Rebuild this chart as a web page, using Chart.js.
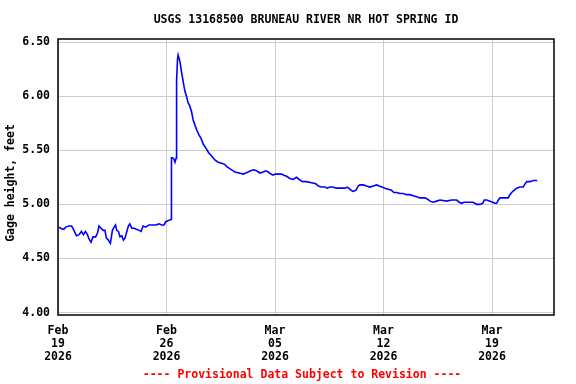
<!DOCTYPE html>
<html>
<head>
<meta charset="utf-8">
<script src="https://cdn.jsdelivr.net/npm/chart.js@4.4.1/dist/chart.umd.min.js"></script>
<style>
    html, body { margin: 0; padding: 0; background: #fff; }
    #wrap { width: 576px; height: 384px; }
</style>
</head>
<body>
<div id="wrap"><canvas id="gageChart" width="576" height="384"></canvas></div>
<script>
const stationTitle = "USGS 13168500 BRUNEAU RIVER NR HOT SPRING ID";
const yAxisTitle = "Gage height, feet";
const footerNote = "---- Provisional Data Subject to Revision ----";

// days since Feb 19 2026 00:00
const dayOffsets = [
    0.05, 0.17, 0.37, 0.50, 0.71, 0.88, 1.03, 1.19, 1.36, 1.51,
    1.64, 1.77, 1.90, 2.00, 2.13, 2.26, 2.43, 2.56, 2.65, 2.78,
    2.91, 3.03, 3.12, 3.25, 3.38, 3.51, 3.62, 3.71, 3.79, 3.90,
    4.00, 4.11, 4.22, 4.33, 4.44, 4.54, 4.63, 4.76, 4.91, 5.06,
    5.23, 5.36, 5.49, 5.66, 5.87, 6.09, 6.31, 6.52, 6.69, 6.84,
    6.95, 7.13, 7.26, 7.30, 7.32, 7.39, 7.47, 7.55, 7.63, 7.65,
    7.71, 7.75, 7.81, 7.88, 7.94, 8.01, 8.07, 8.13, 8.20, 8.29,
    8.39, 8.50, 8.61, 8.72, 8.84, 8.97, 9.10, 9.23, 9.36, 9.54,
    9.71, 9.90, 10.12, 10.33, 10.55, 10.76, 10.87, 11.08, 11.30, 11.41,
    11.69, 11.94, 12.12, 12.27, 12.42, 12.63, 12.81, 13.02, 13.23, 13.41,
    13.56, 13.73, 13.88, 14.01, 14.20, 14.42, 14.57, 14.75, 14.96, 15.17,
    15.39, 15.56, 15.78, 16.04, 16.36, 16.64, 16.79, 17.00, 17.22, 17.37,
    17.54, 17.71, 17.97, 18.30, 18.51, 18.66, 18.83, 19.01, 19.22, 19.37,
    19.48, 19.69, 19.91, 20.12, 20.34, 20.56, 20.72, 20.90, 21.09, 21.30,
    21.52, 21.67, 21.85, 22.06, 22.27, 22.49, 22.71, 22.92, 23.14, 23.35,
    23.67, 23.82, 24.00, 24.21, 24.43, 24.64, 25.07, 25.40, 25.72, 25.89,
    26.04, 26.19, 26.47, 26.75, 26.90, 27.01, 27.22, 27.40, 27.50, 27.66,
    27.87, 28.04, 28.19, 28.30, 28.41, 28.52, 28.84, 29.05, 29.16, 29.27,
    29.42, 29.59, 29.81, 30.02, 30.13, 30.24, 30.45, 30.66, 30.92
];
const gageHeights = [
    4.79, 4.78, 4.77, 4.79, 4.80, 4.80, 4.76, 4.71, 4.72, 4.75,
    4.72, 4.75, 4.72, 4.68, 4.65, 4.70, 4.70, 4.74, 4.80, 4.78,
    4.76, 4.76, 4.69, 4.67, 4.64, 4.76, 4.79, 4.81, 4.76, 4.75,
    4.70, 4.71, 4.67, 4.69, 4.75, 4.80, 4.82, 4.78, 4.78, 4.77,
    4.76, 4.75, 4.80, 4.79, 4.81, 4.81, 4.81, 4.82, 4.81, 4.81,
    4.84, 4.85, 4.86, 4.86, 5.43, 5.43, 5.42, 5.39, 5.43, 6.14,
    6.34, 6.38, 6.35, 6.31, 6.25, 6.19, 6.14, 6.09, 6.04, 6.00,
    5.94, 5.91, 5.86, 5.78, 5.73, 5.68, 5.64, 5.61, 5.56, 5.52,
    5.48, 5.45, 5.41, 5.39, 5.38, 5.37, 5.35, 5.33, 5.31, 5.30,
    5.29, 5.28, 5.29, 5.30, 5.31, 5.32, 5.31, 5.29, 5.30, 5.31,
    5.30, 5.28, 5.27, 5.28, 5.28, 5.28, 5.27, 5.26, 5.24, 5.23,
    5.25, 5.23, 5.21, 5.21, 5.20, 5.19, 5.17, 5.16, 5.16, 5.15,
    5.16, 5.16, 5.15, 5.15, 5.15, 5.16, 5.14, 5.12, 5.13, 5.17,
    5.18, 5.18, 5.17, 5.16, 5.17, 5.18, 5.17, 5.16, 5.15, 5.14,
    5.13, 5.11, 5.11, 5.10, 5.10, 5.09, 5.09, 5.08, 5.07, 5.06,
    5.06, 5.05, 5.03, 5.02, 5.03, 5.04, 5.03, 5.04, 5.04, 5.02,
    5.01, 5.02, 5.02, 5.02, 5.01, 5.00, 5.00, 5.01, 5.04, 5.04,
    5.03, 5.02, 5.01, 5.01, 5.04, 5.06, 5.06, 5.06, 5.09, 5.11,
    5.13, 5.15, 5.16, 5.16, 5.19, 5.21, 5.21, 5.22, 5.22
];

const xTickDays = [0, 7, 14, 21, 28];
const xTickLabels = [
    ["Feb", "19", "2026"],
    ["Feb", "26", "2026"],
    ["Mar", "05", "2026"],
    ["Mar", "12", "2026"],
    ["Mar", "19", "2026"]
];
const yTickValues = [4.0, 4.5, 5.0, 5.5, 6.0, 6.5];

const monoFont = "'DejaVu Sans Mono', 'Liberation Mono', monospace";

// frame, title, axis title and footer drawn by hand
const frameAndText = {
    id: "frameAndText",
    beforeDraw(chart) {
        const ctx = chart.ctx;
        ctx.save();
        ctx.fillStyle = "#fff";
        ctx.fillRect(0, 0, chart.width, chart.height);
        ctx.restore();
    },
    afterDraw(chart) {
        const { ctx, chartArea: a } = chart;
        ctx.save();
        ctx.strokeStyle = "#000";
        ctx.lineWidth = 1.5;
        ctx.strokeRect(a.left, a.top, a.right - a.left, a.bottom - a.top);

        ctx.font = `bold 11.5px ${monoFont}`;
        ctx.textAlign = "center";
        ctx.textBaseline = "middle";
        ctx.fillStyle = "#000";
        ctx.fillText(stationTitle, (a.left + a.right) / 2, 20);

        ctx.fillStyle = "#ff0000";
        ctx.fillText(footerNote, 302, 375);

        ctx.translate(11, 183);
        ctx.rotate(-Math.PI / 2);
        ctx.fillStyle = "#000";
        ctx.fillText(yAxisTitle, 0, 0);
        ctx.restore();
    }
};

const points = dayOffsets.map((d, i) => ({ x: d, y: gageHeights[i] }));

new Chart(document.getElementById("gageChart"), {
    type: "line",
    data: {
        datasets: [{
            label: "Gage height",
            data: points,
            borderColor: "#0000ff",
            borderWidth: 1.6,
            pointRadius: 0,
            tension: 0,
            fill: false
        }]
    },
    options: {
        responsive: false,
        animation: false,
        layout: { padding: { top: 39, right: 22, left: 0, bottom: 0 } },
        plugins: {
            legend: { display: false },
            tooltip: { enabled: false }
        },
        scales: {
            x: {
                type: "linear",
                min: 0,
                max: 32,
                afterBuildTicks: axis => {
                    axis.ticks = xTickDays.map(v => ({ value: v }));
                },
                afterFit: scale => { scale.height = 69; },
                grid: { color: "#cccccc", lineWidth: 1, drawTicks: false },
                border: { display: false },
                ticks: {
                    color: "#000",
                    padding: 10,
                    maxRotation: 0,
                    autoSkip: false,
                    font: { family: monoFont, size: 11.5, weight: "bold", lineHeight: 1.1 },
                    callback: (v, i) => xTickLabels[i]
                }
            },
            y: {
                min: 3.978,
                max: 6.528,
                afterBuildTicks: axis => {
                    axis.ticks = yTickValues.map(v => ({ value: v }));
                },
                afterFit: scale => { scale.width = 58; },
                grid: { color: "#cccccc", lineWidth: 1, drawTicks: false },
                border: { display: false },
                ticks: {
                    color: "#000",
                    padding: 8,
                    font: { family: monoFont, size: 11.5, weight: "bold" },
                    callback: v => v.toFixed(2)
                }
            }
        }
    },
    plugins: [frameAndText]
});
</script>
</body>
</html>
